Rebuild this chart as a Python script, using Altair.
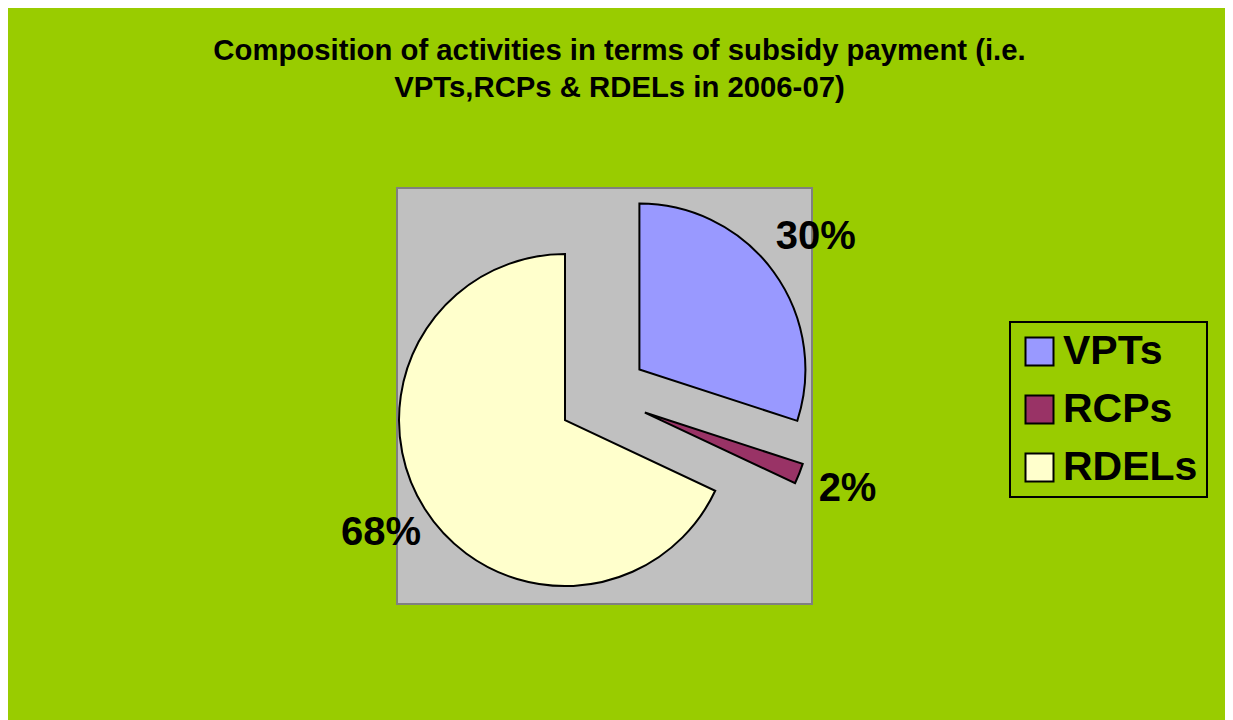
import altair as alt
import pandas as pd

# ---- data ----
categories = ["VPTs", "RCPs", "RDELs"]
shares = [30, 2, 68]
labels = ["30%", "2%", "68%"]
order = [0, 1, 2]
colors = ["#9999FF", "#993366", "#FFFFCC"]

# ---- layout / style parameters ----
CX, CY = 206, 208        # pie centre inside the plot area (px)
R = 166                  # pie radius
EXPLODE = 45             # slice explosion distance
LABEL_R = 218            # label distance from slice centre
FONT = "Liberation Sans"

df = pd.DataFrame({"cat": categories, "value": shares, "label": labels, "ord": order})

base = alt.Chart(df).transform_window(
    cum="sum(value)", sort=[alt.SortField("ord")], frame=[None, 0]
).transform_joinaggregate(
    total="sum(value)"
).transform_calculate(
    t0="(datum.cum - datum.value) / datum.total * 2 * PI",
    t1="datum.cum / datum.total * 2 * PI",
).transform_calculate(
    mid="(datum.t0 + datum.t1) / 2"
).transform_calculate(
    cx=f"{CX} + {EXPLODE} * sin(datum.mid)",
    cy=f"{CY} - {EXPLODE} * cos(datum.mid)",
).transform_calculate(
    lx=f"datum.cx + {LABEL_R} * sin(datum.mid)",
    ly=f"datum.cy - {LABEL_R} * cos(datum.mid)",
)

arcs = base.mark_arc(radius=R, stroke="black", strokeWidth=2, opacity=1).encode(
    x=alt.X("cx:Q", scale=None, axis=None),
    y=alt.Y("cy:Q", scale=None, axis=None),
    theta=alt.Theta("t0:Q", scale=None, stack=None),
    theta2="t1:Q",
    color=alt.Color(
        "cat:N",
        scale=alt.Scale(domain=categories, range=colors),
        sort=categories,
        legend=alt.Legend(
            title=None,
            orient="none",
            legendX=613,
            legendY=134,
            direction="vertical",
            strokeColor="black",
            padding=9,
            symbolType="square",
            symbolSize=784,
            symbolStrokeColor="black",
            symbolStrokeWidth=2,
            symbolOpacity=1,
            labelFont=FONT,
            labelFontSize=41,
            labelFontWeight="bold",
            labelColor="black",
            labelOffset=3,
            rowPadding=16,
            labelLimit=400,
        ),
    ),
)

texts = base.mark_text(
    font=FONT, fontSize=40, fontWeight="bold", color="black",
    align="center", baseline="middle", dy=-4,
).encode(
    x=alt.X("lx:Q", scale=None, axis=None),
    y=alt.Y("ly:Q", scale=None, axis=None),
    text="label:N",
)

chart = alt.layer(arcs, texts).properties(
    width=415,
    height=416,
    background="#99CC00",
    autosize=alt.AutoSizeParams(type="none"),
    padding={"left": 389, "top": 180, "right": 413, "bottom": 116},
    title=alt.Title(
        ["Composition of activities in terms of subsidy payment (i.e.",
         "VPTs,RCPs & RDELs in 2006-07)"],
        font=FONT, fontSize=29.3, fontWeight="bold", color="black",
        lineHeight=37, anchor="middle", frame="group", dx=15, offset=85,
    ),
).configure_view(
    fill="#C0C0C0", stroke="#808080", strokeWidth=2
).configure_legend(
    strokeWidth=2
)

chart.save("out.html", embed_options={"renderer": "svg", "actions": False})
